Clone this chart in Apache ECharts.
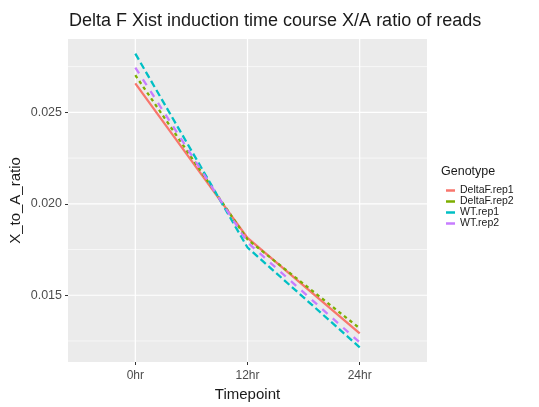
<!DOCTYPE html>
<html>
<head>
<meta charset="utf-8">
<script src="https://cdn.jsdelivr.net/npm/echarts@6/dist/echarts.min.js"></script>
<style>
html,body{margin:0;padding:0;background:#fff}
#chart{width:539px;height:407px}
</style>
</head>
<body>
<div id="chart"></div>
<script>
// values
var timepoints = ['0hr', '12hr', '24hr'];
var genotypes = ['DeltaF.rep1', 'DeltaF.rep2', 'WT.rep1', 'WT.rep2'];
var deltaF_rep1 = [0.02658, 0.01814, 0.01291];
var deltaF_rep2 = [0.02703, 0.01805, 0.01319];
var wt_rep1 = [0.02821, 0.01761, 0.01215];
var wt_rep2 = [0.02745, 0.01789, 0.01242];
var yTicks = [0.015, 0.020, 0.025];
var yMinor = [0.0125, 0.0175, 0.0225, 0.0275];

var X_MIN = -0.6, X_MAX = 2.6;
var Y_MIN = 0.01135, Y_MAX = 0.02901;

var colors = ['#F8766D', '#7CAE00', '#00BFC4', '#C77CFF'];
var dashes = ['solid', [3.5, 3.5], [7, 3.5], [7, 7]];
var values = [deltaF_rep1, deltaF_rep2, wt_rep1, wt_rep2];

var myChart = echarts.init(document.getElementById('chart'));

function toPairs(arr) {
    return arr.map(function (v, i) { return [i, v]; });
}

// white ggplot-style grid lines, drawn as plain line series under the data
function gridSeries(data, width) {
    return {
        type: 'line',
        data: data,
        z: 1,
        silent: true,
        symbol: 'none',
        legendHoverLink: false,
        lineStyle: { color: '#ffffff', width: width },
        tooltip: { show: false }
    };
}

var series = [];
yMinor.forEach(function (v) {
    series.push(gridSeries([[X_MIN, v], [X_MAX, v]], 0.6));
});
yTicks.forEach(function (v) {
    series.push(gridSeries([[X_MIN, v], [X_MAX, v]], 1.2));
});
timepoints.forEach(function (t, i) {
    series.push(gridSeries([[i, Y_MIN], [i, Y_MAX]], 1.2));
});

genotypes.forEach(function (g, i) {
    series.push({
        name: g,
        type: 'line',
        z: 2 + i,
        data: toPairs(values[i]),
        showSymbol: false,
        symbol: 'none',
        lineStyle: { color: colors[i], width: 2.3, type: dashes[i] },
        itemStyle: { color: colors[i] }
    });
});

var option = {
    animation: false,
    textStyle: { fontFamily: 'Liberation Sans, Arial, sans-serif' },
    title: [{
        text: 'Delta F Xist induction time course X/A ratio of reads',
        left: 69,
        top: 12.5,
        padding: 0,
        textStyle: { fontSize: 18, fontWeight: 'normal', color: '#1a1a1a' }
    }, {
        text: 'Genotype',
        left: 441,
        top: 165,
        padding: 0,
        textStyle: { fontSize: 12.5, fontWeight: 'normal', color: '#1a1a1a' }
    }],
    legend: {
        data: genotypes,
        orient: 'vertical',
        left: 441,
        top: 180,
        icon: 'rect',
        itemWidth: 9,
        itemHeight: 2.5,
        itemGap: 0,
        textStyle: { fontSize: 10.5, color: '#1a1a1a', lineHeight: 9.5 }
    },
    grid: {
        left: 68,
        right: 112,
        top: 39,
        bottom: 45,
        outerBoundsMode: 'none',
        containLabel: false,
        show: true,
        backgroundColor: '#EBEBEB',
        borderWidth: 0
    },
    xAxis: {
        type: 'value',
        min: X_MIN,
        max: X_MAX,
        name: 'Timepoint',
        nameLocation: 'middle',
        nameGap: 25,
        nameMoveOverlap: false,
        nameTextStyle: { fontSize: 15, color: '#1a1a1a' },
        axisLine: { show: false, onZero: false },
        splitLine: { show: false },
        axisTick: { show: true, length: 3, lineStyle: { color: '#333' }, customValues: [0, 1, 2] },
        axisLabel: {
            customValues: [0, 1, 2],
            margin: 8,
            fontSize: 12,
            color: '#4d4d4d',
            formatter: function (v) { return timepoints[Math.round(v)]; }
        }
    },
    yAxis: {
        type: 'value',
        min: Y_MIN,
        max: Y_MAX,
        name: 'X_to_A_ratio',
        nameLocation: 'middle',
        nameGap: 45,
        nameMoveOverlap: false,
        nameTextStyle: { fontSize: 15, color: '#1a1a1a' },
        axisLine: { show: false, onZero: false },
        splitLine: { show: false },
        axisTick: { show: true, length: 3, lineStyle: { color: '#333' }, customValues: yTicks },
        axisLabel: {
            customValues: yTicks,
            margin: 6,
            fontSize: 12.5,
            color: '#4d4d4d',
            formatter: function (v) { return v.toFixed(3); }
        }
    },
    series: series
};

myChart.setOption(option);
</script>
</body>
</html>
